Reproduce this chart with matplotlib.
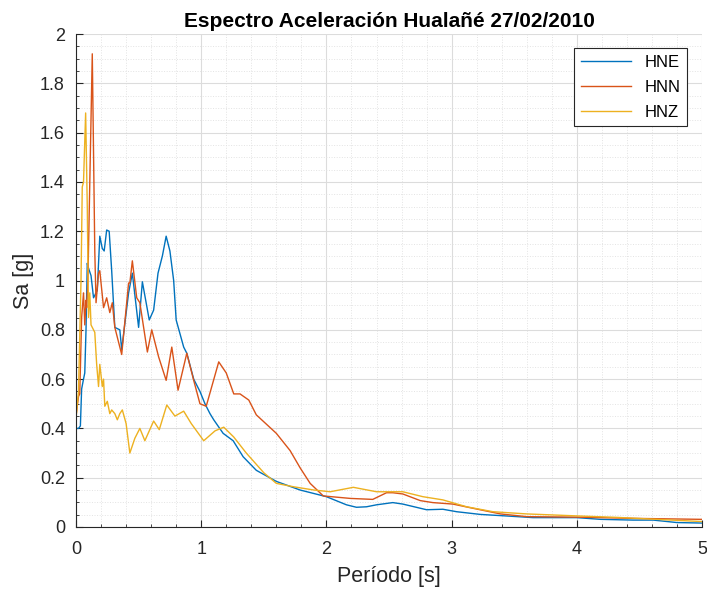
import numpy as np
import matplotlib.pyplot as plt
from matplotlib.ticker import MultipleLocator

plt.rcParams['font.family'] = ['Liberation Sans', 'DejaVu Sans']

# Periods [s] and spectral accelerations [g]
t_hne = [0.0, 0.02, 0.035, 0.045, 0.06, 0.07, 0.08, 0.09, 0.1, 0.12, 0.14, 0.17, 0.19, 0.21, 0.225,
         0.245, 0.265, 0.285, 0.31, 0.35, 0.365, 0.42, 0.45, 0.50, 0.53, 0.585, 0.62, 0.655, 0.69,
         0.72, 0.75, 0.78, 0.80, 0.86, 0.885, 0.94, 0.99, 1.03, 1.07, 1.10, 1.175, 1.255, 1.335,
         1.44, 1.60, 1.79, 2.0, 2.16, 2.24, 2.32, 2.40, 2.53, 2.61, 2.80, 2.93, 3.04, 3.23, 3.43,
         3.65, 4.0, 4.19, 4.45, 4.61, 4.80, 5.0]
sa_hne = [0.40, 0.40, 0.41, 0.56, 0.60, 0.625, 0.80, 1.07, 1.05, 1.02, 0.93, 0.96, 1.18, 1.13, 1.12,
          1.205, 1.20, 1.04, 0.81, 0.80, 0.72, 0.95, 1.03, 0.81, 0.995, 0.84, 0.88, 1.03, 1.10,
          1.18, 1.12, 1.0, 0.84, 0.73, 0.705, 0.60, 0.55, 0.50, 0.46, 0.435, 0.38, 0.35, 0.285,
          0.23, 0.185, 0.15, 0.123, 0.09, 0.08, 0.082, 0.09, 0.099, 0.093, 0.07, 0.072, 0.062,
          0.051, 0.045, 0.038, 0.038, 0.031, 0.028, 0.028, 0.018, 0.016]

t_hnn = [0.0, 0.02, 0.03, 0.045, 0.06, 0.07, 0.08, 0.085, 0.095, 0.13, 0.15, 0.16, 0.18, 0.19,
         0.22, 0.245, 0.27, 0.29, 0.31, 0.365, 0.42, 0.43, 0.45, 0.485, 0.51, 0.57, 0.605, 0.66,
         0.72, 0.765, 0.815, 0.885, 0.94, 0.99, 1.04, 1.14, 1.20, 1.26, 1.31, 1.38, 1.44, 1.60,
         1.71, 1.79, 1.87, 1.975, 2.19, 2.37, 2.48, 2.53, 2.61, 2.75, 2.85, 3.01, 3.17, 3.39,
         3.60, 4.0, 4.45, 5.0]
sa_hnn = [0.45, 0.53, 0.54, 0.85, 0.95, 0.82, 0.92, 0.89, 1.0, 1.92, 1.12, 0.91, 1.03, 1.04,
          0.89, 0.93, 0.87, 0.91, 0.81, 0.70, 0.99, 0.99, 1.08, 0.93, 0.91, 0.71, 0.80, 0.69,
          0.595, 0.73, 0.555, 0.705, 0.595, 0.50, 0.49, 0.67, 0.625, 0.54, 0.54, 0.515, 0.455, 0.38,
          0.31, 0.24, 0.177, 0.126, 0.116, 0.112, 0.139, 0.139, 0.134, 0.107, 0.099, 0.093, 0.076,
          0.053, 0.042, 0.04, 0.035, 0.031]

t_hnz = [0.0, 0.02, 0.04, 0.05, 0.06, 0.077, 0.09, 0.1, 0.11, 0.12, 0.15, 0.165, 0.18, 0.19,
         0.21, 0.22, 0.23, 0.25, 0.27, 0.285, 0.31, 0.33, 0.35, 0.37, 0.40, 0.43, 0.47, 0.51,
         0.55, 0.62, 0.665, 0.725, 0.79, 0.86, 0.92, 1.02, 1.11, 1.18, 1.26, 1.36, 1.50, 1.60,
         1.74, 1.90, 2.03, 2.215, 2.40, 2.61, 2.77, 2.93, 3.12, 3.33, 3.60, 4.0, 4.32, 5.0]
sa_hnz = [0.44, 0.55, 1.0, 1.38, 1.40, 1.68, 1.30, 0.85, 0.95, 0.82, 0.79, 0.66, 0.57, 0.66,
          0.57, 0.60, 0.49, 0.51, 0.46, 0.475, 0.46, 0.435, 0.46, 0.475, 0.42, 0.30, 0.36, 0.40,
          0.35, 0.43, 0.395, 0.495, 0.45, 0.47, 0.42, 0.35, 0.39, 0.405, 0.365, 0.30, 0.22, 0.177,
          0.163, 0.15, 0.143, 0.161, 0.143, 0.143, 0.123, 0.11, 0.082, 0.062, 0.053, 0.045, 0.039,
          0.022]

y_ticks = [0, 0.2, 0.4, 0.6, 0.8, 1.0, 1.2, 1.4, 1.6, 1.8, 2.0]
y_tick_labels = ['0', '0.2', '0.4', '0.6', '0.8', '1', '1.2', '1.4', '1.6', '1.8', '2']

fig = plt.figure(figsize=(7.07, 5.91), dpi=100)
ax = fig.add_axes([0.1075, 0.1083, 0.8855, 0.834])

ax.plot(t_hne, sa_hne, color='#0072BD', lw=1.0, label='HNE')
ax.plot(t_hnn, sa_hnn, color='#D95319', lw=1.0, label='HNN')
ax.plot(t_hnz, sa_hnz, color='#EDB120', lw=1.0, label='HNZ')

ax.set_xlim(0, 5)
ax.set_ylim(0, 2)
ax.xaxis.set_major_locator(MultipleLocator(1))
ax.xaxis.set_minor_locator(MultipleLocator(0.2))
ax.set_yticks(y_ticks)
ax.set_yticklabels(y_tick_labels)
ax.yaxis.set_minor_locator(MultipleLocator(0.05))

ax.grid(which='major', color='#dcdcdc', lw=0.8)
ax.grid(which='minor', color='#e3e3e3', lw=0.7, ls=':')
ax.set_axisbelow(True)

for s in ['top', 'right']:
    ax.spines[s].set_visible(False)
for s in ['left', 'bottom']:
    ax.spines[s].set_color('#262626')
    ax.spines[s].set_linewidth(0.8)

ax.tick_params(which='major', direction='in', length=5, width=0.8, colors='#262626',
               labelsize=13, labelcolor='#262626')
ax.tick_params(which='minor', direction='in', length=2.5, width=0.6, colors='#262626')
ax.tick_params(axis='x', which='major', pad=10)
ax.tick_params(axis='y', which='major', pad=8)

ax.set_title('Espectro Aceleración Hualañé 27/02/2010', fontsize=15, fontweight='bold', pad=5)
ax.set_xlabel('Período [s]', fontsize=15.5, color='#262626', labelpad=6)
ax.set_ylabel('Sa [g]', fontsize=15.5, color='#262626', labelpad=4)

leg = ax.legend(loc='upper right', fontsize=12, fancybox=False, framealpha=1,
                edgecolor='#262626', handlelength=3.0, labelspacing=0.6, borderaxespad=0,
                bbox_to_anchor=(0.976, 0.972))
leg.get_frame().set_linewidth(0.8)

fig.savefig('out.png', dpi=100)
